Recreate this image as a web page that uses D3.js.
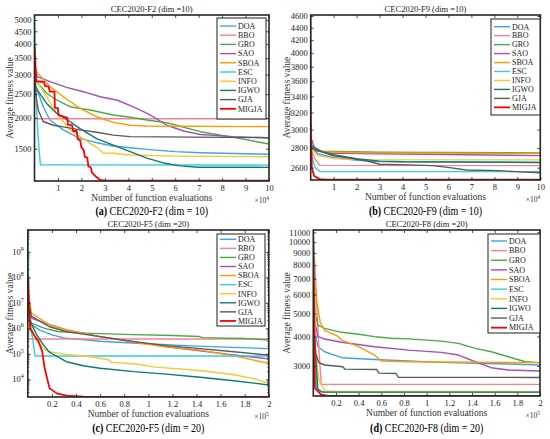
<!DOCTYPE html>
<html>
<head>
<meta charset="utf-8">
<script src="https://cdn.jsdelivr.net/npm/d3@7"></script>
<style>
  body { margin: 0; background: #fff; }
  svg { display: block; font-family: "Liberation Serif", "Times New Roman", serif; }
</style>
</head>
<body>
<svg id="chart" width="550" height="439"></svg>
<script>
// legend order, one colour per algorithm
const algorithms = ["DOA", "BBO", "GRO", "SAO", "SBOA", "ESC", "INFO", "IGWO", "GJA", "MIGJA"];
const lineColors = ["#3fa4e6", "#ff7f8c", "#46ad46", "#a24fc0", "#ff9a00", "#2fd0da", "#ffc52e", "#0a7a72", "#5a5a5a", "#ff0000"];

// CEC2020-F2 (dim=10): [evaluations x1e4, average fitness]
const f2Curves = [
  [[0,3200],[0.02,2765],[0.37,2222],[0.66,1962],[1.23,1789],[1.94,1650],[2.65,1587],[3.36,1538],[4.08,1514],[4.79,1491],[6,1460],[7.07,1445],[10,1424]],
  [[0,1986],[10,1986]],
  [[0,3000],[0.02,2853],[0.52,2520],[0.94,2366],[1.51,2222],[2.37,2154],[3.36,2057],[4.08,2013],[4.79,1962],[5.64,1913],[7.07,1759],[8.5,1668],[10,1567]],
  [[0,3050],[0.1,2950],[0.66,2808],[1.37,2664],[2.08,2557],[2.8,2440],[3.5,2366],[4.2,2222],[4.93,2057],[5.64,1868],[6.36,1770],[7.07,1713],[8.5,1679],[10,1662]],
  [[0,3250],[0.02,3130],[0.66,2680],[1.23,2440],[1.94,2190],[2.65,2023],[3.36,1920],[4.08,1868],[4.79,1855],[10,1844]],
  [[0,5200],[0.05,2600],[0.15,1700],[0.25,1290],[10,1287]],
  [[0,3000],[0.02,2895],[0.52,2440],[0.94,2090],[1.51,1789],[1.94,1679],[2.65,1520],[2.94,1440],[3.36,1437],[4.08,1414],[6,1400],[10,1392]],
  [[0,2900],[0.02,2680],[0.52,2291],[0.94,2090],[1.51,1935],[1.94,1811],[2.65,1650],[3.36,1552],[4.08,1459],[4.79,1373],[5.5,1313],[6.21,1278],[7,1262],[10,1260]],
  [[0,3200],[0.08,2400],[0.16,2150],[0.37,1935],[0.8,1868],[1.23,1840],[1.94,1789],[2.65,1750],[3.36,1703],[4.08,1679],[10,1662]],
  [[0,3960],[0.08,2820],[0.4,2800],[0.45,2700],[0.6,2680],[0.65,2560],[0.85,2560],[0.87,2200],[1.0,2190],[1.02,2060],[1.4,2000],[1.42,1880],[1.6,1870],[1.65,1770],[1.8,1770],[1.85,1640],[1.95,1620],[2.0,1520],[2.1,1480],[2.15,1390],[2.25,1380],[2.3,1270],[2.4,1260],[2.45,1200],[2.6,1160],[2.8,1120],[3.0,1113],[10,1113]]
];
const f2Ticks = [1500, 2000, 2500, 3000, 3500, 4000, 4500, 5000];

// CEC2020-F9 (dim=10): [evaluations x1e4, average fitness]
const f9Curves = [
  [[0,2830],[0.3,2740],[1,2700],[2,2672],[3,2660],[10,2655]],
  [[0,2780],[0.2,2680],[0.4,2622],[10,2620]],
  [[0,2790],[0.5,2765],[3,2755],[10,2748]],
  [[0,4600],[0.03,2900],[0.2,2770],[1,2745],[5,2735],[10,2720]],
  [[0,2810],[0.5,2760],[2,2750],[10,2742]],
  [[0,2740],[0.2,2600],[0.4,2563],[10,2561]],
  [[0,2800],[0.3,2720],[1,2690],[2,2680],[10,2677]],
  [[0,2830],[0.5,2760],[1,2730],[2,2690],[3,2665],[4,2658],[10,2650]],
  [[0,2800],[0.98,2719],[1.71,2693],[2.43,2668],[3.0,2634],[3.87,2630],[5.32,2620],[6.05,2600],[6.77,2577],[8.2,2571],[8.9,2561],[10,2550]],
  [[0,3070],[0.05,2600],[0.15,2520],[0.4,2490],[0.7,2486],[10,2486]]
];
const f9Ticks = [2600, 2800, 3000, 3200, 3400, 3600, 3800, 4000, 4200, 4400, 4600];

// CEC2020-F5 (dim=20): [evaluations x1e5, average fitness]
const f5Curves = [
  [[0,3e6],[0.03,1.4e6],[0.1,8.5e5],[0.2,5.5e5],[0.3,4.2e5],[0.6,3.1e5],[0.9,2.6e5],[1.4,2.0e5],[2,1.6e5]],
  [[0,3.8e5],[2,3.8e5]],
  [[0,3e6],[0.03,1.6e6],[0.14,1e6],[0.25,7.5e5],[0.4,6.6e5],[0.8,5.8e5],[1.2,5.2e5],[1.42,4.8e5],[1.45,4.3e5],[1.8,4.0e5],[2,3.5e5]],
  [[0,1e7],[0.03,2.5e6],[0.14,1.6e6],[0.25,1.1e6],[0.32,8.6e5],[0.6,4.7e5],[0.88,3e5],[1.15,1.9e5],[1.43,1.3e5],[1.71,9e4],[2,6.3e4]],
  [[0,3e7],[0.03,4e6],[0.18,1.35e6],[0.32,8.6e5],[0.6,4.7e5],[0.88,2.8e5],[1.15,1.9e5],[1.43,1.4e5],[1.71,8.4e4],[2,4.2e4]],
  [[0,7e9],[0.01,2e6],[0.04,4e5],[0.06,8.2e4],[2,8.2e4]],
  [[0,2e7],[0.03,1e6],[0.08,3e5],[0.13,1.6e5],[0.18,1.2e5],[0.32,9.5e4],[0.5,8e4],[0.66,6e4],[0.7,4.6e4],[0.9,4e4],[1.06,3e4],[1.43,2.2e4],[1.71,1.5e4],[1.9,1e4],[2,7e3]],
  [[0,5e6],[0.03,1.5e6],[0.07,6e5],[0.13,2.2e5],[0.18,1.15e5],[0.32,4.9e4],[0.46,3.4e4],[0.6,2.7e4],[0.88,2e4],[1.15,1.6e4],[1.43,1.2e4],[1.71,8.8e3],[2,6e3]],
  [[0,1.5e7],[0.03,3e6],[0.18,1.15e6],[0.32,7.4e5],[0.6,4.7e5],[0.88,3e5],[1.15,2.1e5],[1.43,1.6e5],[1.71,1.2e5],[2,8.9e4]],
  [[0,1.3e8],[0.02,1e6],[0.05,5.5e5],[0.09,3e5],[0.12,1.2e5],[0.14,2.7e4],[0.18,4.5e3],[0.24,2.8e3],[0.32,2.3e3],[0.46,2.1e3],[2,2.05e3]]
];
const f5Ticks = [1e4, 1e5, 1e6, 1e7, 1e8, 1e9];

// CEC2020-F8 (dim=20): [evaluations x1e5, average fitness]
const f8Curves = [
  [[0,11000],[0.015,4187],[0.04,3619],[0.1,3447],[0.25,3253],[0.54,3197],[0.84,3148],[1.13,3109],[1.43,3080],[1.72,3060],[2,3029]],
  [[0,11000],[0.02,7000],[0.05,3500],[0.07,2511],[2,2511]],
  [[0,10500],[0.015,5000],[0.04,4468],[0.1,4328],[0.25,4163],[0.4,4083],[0.54,3990],[0.69,3930],[0.84,3905],[1.13,3823],[1.28,3740],[1.43,3560],[1.57,3447],[1.72,3282],[1.87,3128],[2,3100]],
  [[0,5000],[0.015,4600],[0.04,3990],[0.1,3900],[0.25,3780],[0.54,3619],[0.84,3503],[1.13,3426],[1.28,3338],[1.43,3128],[1.57,2952],[1.72,2887],[2,2858]],
  [[0,7750],[0.03,5618],[0.06,4614],[0.1,4240],[0.22,4000],[0.25,3862],[0.4,3619],[0.54,3338],[0.6,3148],[0.69,3140],[0.84,3128],[2,3100]],
  [[0,11000],[0.01,5000],[0.03,2400],[0.06,2335],[2,2332]],
  [[0,9000],[0.02,3500],[0.05,2600],[0.1,2355],[0.2,2345],[2,2340]],
  [[0,10000],[0.01,4000],[0.04,2400],[0.08,2330],[2,2328]],
  [[0,4800],[0.02,3400],[0.05,3100],[0.1,3030],[0.26,2980],[0.28,2910],[0.56,2900],[0.58,2800],[0.73,2790],[0.75,2690],[2,2685]],
  [[0,8600],[0.015,2420],[0.07,2270],[0.12,2248],[2,2246]]
];
const f8Ticks = [3000, 4000, 5000, 6000, 7000, 8000, 9000, 10000, 11000];

const ticks1e4 = [1, 2, 3, 4, 5, 6, 7, 8, 9, 10];
const ticks1e5 = [0.2, 0.4, 0.6, 0.8, 1, 1.2, 1.4, 1.6, 1.8, 2];

const panels = [
  { id: "a", title: "CEC2020-F2 (dim =10)", caption: "CEC2020-F2 (dim = 10)", curves: f2Curves, yTicks: f2Ticks,
    xTicks: ticks1e4, xMax: 10, exp: "4", box: [34.5, 15, 269, 181], yDomain: [1109, 5240],
    legend: [217, 18, 49, 101, 8, 9.2], capY: 215, labelX: 10 },
  { id: "b", title: "CEC2020-F9 (dim =10)", caption: "CEC2020-F9 (dim = 10)", curves: f9Curves, yTicks: f9Ticks,
    xTicks: ticks1e4, xMax: 10, exp: "4", box: [310.7, 15, 540.3, 180], yDomain: [2482, 4617],
    legend: [491, 19, 49, 96, 7.7, 8.96], capY: 215, labelX: 287 },
  { id: "c", title: "CEC2020-F5 (dim =20)", caption: "CEC2020-F5 (dim = 20)", curves: f5Curves, yTicks: f5Ticks,
    xTicks: ticks1e5, xMax: 2, exp: "5", box: [27.8, 230, 268.8, 397], yDomain: [2020, 7.2e9], power: true,
    legend: [217, 234, 48, 92, 5.3, 9.07], capY: 432, labelX: 10 },
  { id: "d", title: "CEC2020-F8 (dim =20)", caption: "CEC2020-F8 (dim = 20)", curves: f8Curves, yTicks: f8Ticks,
    xTicks: ticks1e5, xMax: 2, exp: "5", box: [313.3, 230, 540, 396], yDomain: [2242, 11250],
    legend: [488, 234, 52, 99, 7, 9.63], capY: 432, labelX: 287 }
];

const svg = d3.select("#chart");
const defs = svg.append("defs");

function drawPanel(p) {
  const [x0, y0, x1, y1] = p.box;
  const g = svg.append("g");
  const x = d3.scaleLinear().domain([0, p.xMax]).range([x0, x1]);
  const y = d3.scaleLog().domain(p.yDomain).range([y1, y0]);

  defs.append("clipPath").attr("id", "clip-" + p.id)
    .append("rect").attr("x", x0).attr("y", y0).attr("width", x1 - x0).attr("height", y1 - y0);

  const line = d3.line().x(d => x(d[0])).y(d => y(d[1]));
  g.append("g").attr("clip-path", `url(#clip-${p.id})`)
    .selectAll("path").data(p.curves).join("path")
    .attr("d", line)
    .attr("fill", "none")
    .attr("stroke", (d, i) => lineColors[i])
    .attr("stroke-width", (d, i) => i === 9 ? 1.8 : 1.4)
    .attr("stroke-linejoin", "round");

  // inward ticks on all four sides, MATLAB style
  const bottom = g.append("g").attr("transform", `translate(0,${y1})`)
    .call(d3.axisBottom(x).tickValues(p.xTicks).tickSize(-3).tickPadding(4).tickFormat(d3.format("~g")));
  g.append("g").attr("transform", `translate(0,${y0})`)
    .call(d3.axisTop(x).tickValues(p.xTicks).tickSize(-3).tickFormat(""));
  const left = g.append("g").attr("transform", `translate(${x0},0)`)
    .call(d3.axisLeft(y).tickValues(p.yTicks).tickSize(-3).tickPadding(3)
      .tickFormat(p.power ? "" : d3.format("d")));
  g.append("g").attr("transform", `translate(${x1},0)`)
    .call(d3.axisRight(y).tickValues(p.yTicks).tickSize(-3).tickFormat(""));

  if (p.power) {
    const minor = y.ticks().filter(v => !p.yTicks.includes(v));
    g.append("g").selectAll("line").data(minor).join("line")
      .attr("x1", x0).attr("x2", x0 + 1.8).attr("y1", d => y(d)).attr("y2", d => y(d))
      .attr("stroke", "#222").attr("stroke-width", 0.6);
    g.append("g").selectAll("line").data(minor).join("line")
      .attr("x1", x1).attr("x2", x1 - 1.8).attr("y1", d => y(d)).attr("y2", d => y(d))
      .attr("stroke", "#222").attr("stroke-width", 0.6);
    const lab = g.append("g").selectAll("text").data(p.yTicks).join("text")
      .attr("x", x0 - 4).attr("y", d => y(d) + 3)
      .attr("text-anchor", "end").attr("font-size", 8.5).attr("fill", "#222");
    lab.append("tspan").text("10");
    lab.append("tspan").attr("font-size", 6).attr("dy", -4).text(d => Math.round(Math.log10(d)));
  }

  g.selectAll(".domain").remove();
  g.selectAll(".tick line").attr("stroke", "#222").attr("stroke-width", 0.8);
  g.selectAll(".tick text").attr("font-size", 8.5).attr("fill", "#222")
    .attr("font-family", '"Liberation Serif", serif');

  g.append("rect").attr("x", x0).attr("y", y0).attr("width", x1 - x0).attr("height", y1 - y0)
    .attr("fill", "none").attr("stroke", "#262626").attr("stroke-width", 1.6);

  // legend
  const [lx, ly, lw, lh, first, step] = p.legend;
  const lg = g.append("g").attr("transform", `translate(${lx},${ly})`);
  lg.append("rect").attr("width", lw).attr("height", lh)
    .attr("fill", "#fff").attr("stroke", "#333").attr("stroke-width", 1.1);
  const rows = lg.selectAll("g.row").data(algorithms).join("g").attr("class", "row")
    .attr("transform", (d, i) => `translate(0,${first + i * step})`);
  rows.append("line").attr("x1", 3).attr("x2", 19)
    .attr("stroke", (d, i) => lineColors[i]).attr("stroke-width", (d, i) => i === 9 ? 1.8 : 1.4);
  rows.append("text").attr("x", 21).attr("y", 2.8).attr("font-size", 8).attr("fill", "#222").text(d => d);

  // titles and labels
  const cx = (x0 + x1) / 2;
  g.append("text").attr("x", cx).attr("y", y0 - 3).attr("text-anchor", "middle")
    .attr("font-size", 8.5).attr("fill", "#222").text(p.title);
  g.append("text").attr("x", cx).attr("y", y1 + 20).attr("text-anchor", "middle")
    .attr("font-size", 9.5).attr("fill", "#333").text("Number of function evaluations");
  const ex = g.append("text").attr("x", x1).attr("y", y1 + 22).attr("text-anchor", "end")
    .attr("font-size", 7.5).attr("fill", "#333");
  ex.append("tspan").text("\u00d710");
  ex.append("tspan").attr("font-size", 5.5).attr("dy", -3).text(p.exp);
  g.append("text").attr("transform", `translate(${p.labelX + 3},${(y0 + y1) / 2}) rotate(-90)`)
    .attr("text-anchor", "middle").attr("font-size", 9.5).attr("fill", "#333").text("Average fitness value");

  const cap = g.append("text").attr("transform", `translate(${cx},${p.capY}) scale(0.8,1)`)
    .attr("text-anchor", "middle").attr("font-size", 12.5).attr("fill", "#000");
  cap.append("tspan").attr("font-weight", "bold").text(`(${p.id})`);
  cap.append("tspan").text(" " + p.caption);
}

panels.forEach(drawPanel);
</script>
</body>
</html>
